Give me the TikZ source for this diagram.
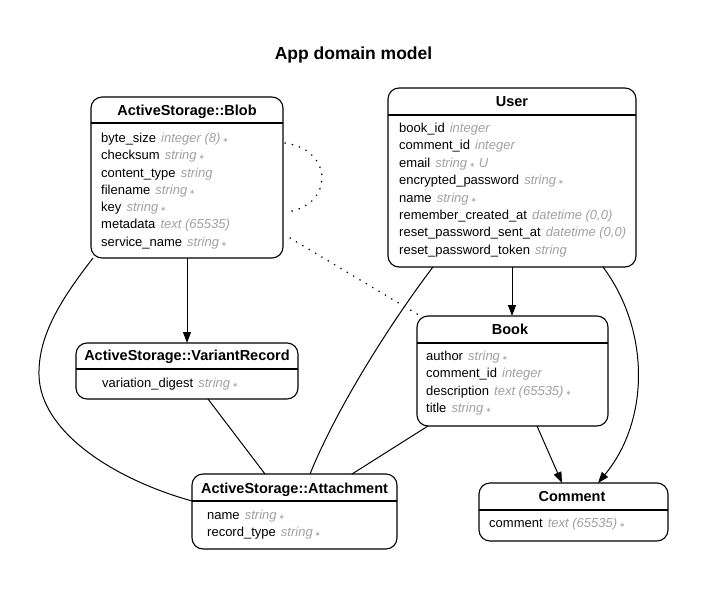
\documentclass[tikz,border=0pt]{standalone}
\usepackage{fontspec}
\setmainfont{Liberation Sans}
\newfontfamily\symf{DejaVu Sans}
\usetikzlibrary{arrows.meta}
\definecolor{attr}{RGB}{160,160,160}
\newcommand\fld[2]{#1\hspace{1.5pt} {\color{attr}\itshape #2}}
\newcommand\req{{\color{attr}\,\symf\fontsize{7}{7}\selectfont ∗}}
\begin{document}
\begin{tikzpicture}[x=1pt,y=-1pt,
  ent/.style={draw, line width=1.1pt, rounded corners=11pt, inner sep=0pt, outer sep=0pt},
  row/.style={anchor=base west, inner sep=0pt, font=\fontsize{13}{15}\selectfont},
  head/.style={anchor=base, inner sep=0pt, font=\bfseries\fontsize{14.5}{16}\selectfont},
  sepline/.style={line width=1.1pt},
  rel/.style={line width=1pt},
  arr/.style={rel, -{Triangle[length=11pt,width=8pt]}},
  dotrel/.style={line width=1.5pt, dash pattern=on 0.4pt off 7pt, line cap=round}]
\useasboundingbox (0,0) rectangle (710,589);

% title
\node[anchor=base, inner sep=0pt, font=\bfseries\fontsize{17.5}{20}\selectfont] (title) at (353.5,59) {App domain model};

% ---------- entity boxes ----------
\node[ent, minimum width=192pt, minimum height=161pt] (blob) at (187,177.5) {};
\node[ent, minimum width=248pt, minimum height=179pt] (user) at (512,177.5) {};
\node[ent, minimum width=191pt, minimum height=110pt] (book) at (512.5,371) {};
\node[ent, minimum width=222pt, minimum height=56pt] (vr) at (187,371) {};
\node[ent, minimum width=205pt, minimum height=75pt] (att) at (294.5,511.5) {};
\node[ent, minimum width=189pt, minimum height=58pt] (comment) at (573.5,512) {};

% separators
\draw[sepline] ([yshift=-26pt]blob.north west) -- ([yshift=-26pt]blob.north east);
\draw[sepline] ([yshift=-27pt]user.north west) -- ([yshift=-27pt]user.north east);
\draw[sepline] ([yshift=-27pt]book.north west) -- ([yshift=-27pt]book.north east);
\draw[sepline] ([yshift=-26pt]vr.north west) -- ([yshift=-26pt]vr.north east);
\draw[sepline] ([yshift=-27pt]att.north west) -- ([yshift=-27pt]att.north east);
\draw[sepline] ([yshift=-27pt]comment.north west) -- ([yshift=-27pt]comment.north east);

% headers
\node[head] (hblob) at (187,115) {ActiveStorage::Blob};
\node[head] (huser) at (512,106) {User};
\node[head] (hbook) at (510,334) {Book};
\node[head] (hvr) at (187,360) {ActiveStorage::VariantRecord};
\node[head] (hatt) at (294.5,493) {ActiveStorage::Attachment};
\node[head] (hcomment) at (572,501) {Comment};

% Blob rows
\node[row] (b1) at (101,142.5) {\fld{byte\_size}{integer (8)}\req};
\node[row] (b2) at (101,159.75) {\fld{checksum}{string}\req};
\node[row] (b3) at (101,177) {\fld{content\_type}{string}};
\node[row] (b4) at (101,194.25) {\fld{filename}{string}\req};
\node[row] (b5) at (101,211.5) {\fld{key}{string}\req};
\node[row] (b6) at (101,228.75) {\fld{metadata}{text (65535)}};
\node[row] (b7) at (101,246) {\fld{service\_name}{string}\req};

% User rows
\node[row] (u1) at (399,132.5) {\fld{book\_id}{integer}};
\node[row] (u2) at (399,149.9) {\fld{comment\_id}{integer}};
\node[row] (u3) at (399,167.3) {\fld{email}{string}\req{\color{attr}\itshape\ U}};
\node[row] (u4) at (399,184.7) {\fld{encrypted\_password}{string}\req};
\node[row] (u5) at (399,202.1) {\fld{name}{string}\req};
\node[row] (u6) at (399,219.5) {\fld{remember\_created\_at}{datetime (0,0)}};
\node[row] (u7) at (399,236.9) {\fld{reset\_password\_sent\_at}{datetime (0,0)}};
\node[row] (u8) at (399,254.3) {\fld{reset\_password\_token}{string}};

% Book rows
\node[row] (k1) at (426,360.5) {\fld{author}{string}\req};
\node[row] (k2) at (426,377.8) {\fld{comment\_id}{integer}};
\node[row] (k3) at (426,395.1) {\fld{description}{text (65535)}\req};
\node[row] (k4) at (426,412.4) {\fld{title}{string}\req};

% VariantRecord row
\node[row] (v1) at (102,387.5) {\fld{variation\_digest}{string}\req};

% Attachment rows
\node[row] (a1) at (207,519.5) {\fld{name}{string}\req};
\node[row] (a2) at (207,536.5) {\fld{record\_type}{string}\req};

% Comment row
\node[row] (c1) at (489,527.5) {\fld{comment}{text (65535)}\req};

% ---------- connectors ----------
\draw[arr] (blob.south) -- (vr.north);
\draw[dotrel] ([xshift=2pt,yshift=-46pt]blob.north east) .. controls (334,150) and (334,205) .. ([xshift=4pt,yshift=-115pt]blob.north east);
\draw[dotrel] ([xshift=7pt,yshift=-141pt]blob.north east) -- ([xshift=5pt,yshift=-1pt]book.north west);
\draw[rel] ([xshift=2pt]blob.south west) .. controls (62,298) and (38,335) .. (39,375) .. controls (40,430) and (110,478) .. ([yshift=-27pt]att.north west);
\draw[rel] ([xshift=21pt]vr.south) -- ([xshift=-29.5pt]att.north);
\draw[rel] ([xshift=-79pt]user.south) .. controls (400,310) and (340,400) .. ([xshift=15.5pt]att.north);
\draw[arr] (user.south) -- (book.north -| user.south);
\draw[arr] ([xshift=91pt]user.south) .. controls (650,330) and (650,420) .. ([xshift=24.5pt]comment.north);
\draw[arr] ([xshift=24.5pt]book.south) -- ([xshift=-11.5pt]comment.north);
\draw[rel] ([xshift=-84.5pt]book.south) -- ([xshift=57.5pt]att.north);
\end{tikzpicture}
\end{document}
